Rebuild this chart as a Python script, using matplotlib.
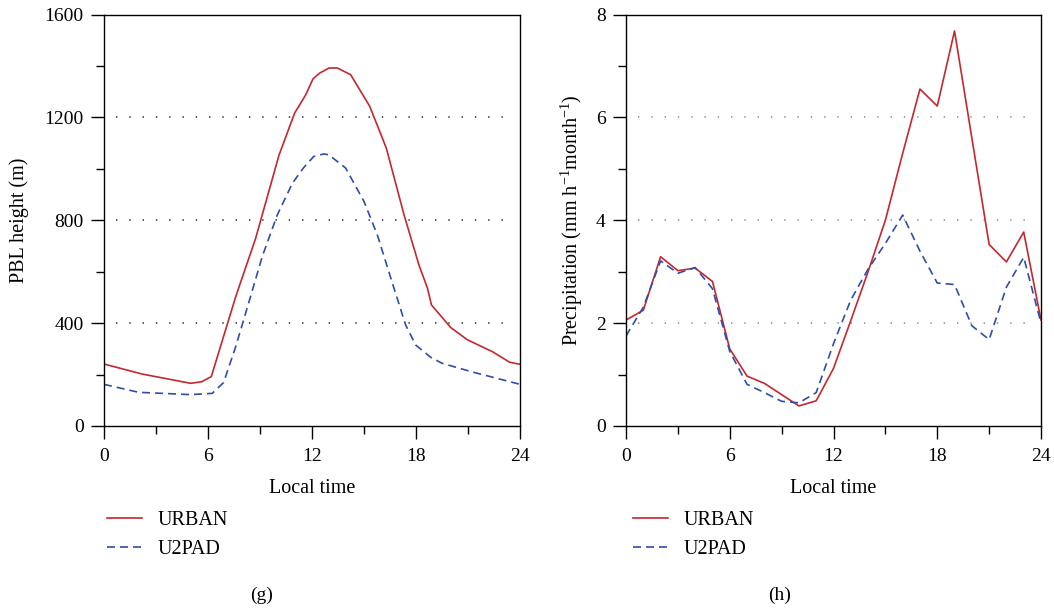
import matplotlib
matplotlib.use("Agg")
import matplotlib.pyplot as plt
from matplotlib.ticker import MultipleLocator

plt.rcParams['font.family'] = ['Liberation Serif', 'DejaVu Serif']
plt.rcParams['mathtext.fontset'] = 'custom'
plt.rcParams['mathtext.rm'] = 'Liberation Serif'
plt.rcParams['mathtext.it'] = 'Liberation Serif:italic'
plt.rcParams['mathtext.bf'] = 'Liberation Serif:bold'

# ---------------- data ----------------
# (g) PBL height (m)
pbl_urban_t = [0.0, 2.2, 5.0, 5.63, 6.19, 7.6, 8.75, 10.1, 11.0, 11.64, 12.06, 12.44,
               12.98, 13.46, 14.23, 15.33, 16.29, 17.31, 18.17, 18.66, 18.89, 20.0,
               20.97, 22.41, 23.4, 24.0]
pbl_urban = [241, 202, 166, 172, 192, 503, 730, 1054, 1217, 1288, 1350, 1372,
             1392, 1392, 1366, 1243, 1080, 821, 626, 536, 471, 383,
             335, 289, 248, 240]
pbl_u2pad_t = [0.0, 2.0, 5.0, 6.25, 6.9, 7.6, 8.37, 9.13, 10.0, 10.87, 11.5, 12.1,
               12.69, 12.98, 13.94, 15.0, 15.77, 16.64, 17.4, 17.98, 18.85, 19.5,
               21.2, 24.0]
pbl_u2pad = [162, 131, 122, 127, 169, 309, 484, 659, 821, 944, 1003, 1048,
             1058, 1054, 1003, 873, 743, 555, 393, 315, 267, 244,
             211, 162]

# (h) Precipitation (hourly)
hours = list(range(25))
pr_urban = [2.06, 2.25, 3.29, 3.02, 3.07, 2.81, 1.50, 0.97, 0.83, 0.61, 0.39, 0.49,
            1.12, 2.05, 3.00, 4.00, 5.30, 6.55, 6.22, 7.68, 5.60, 3.53, 3.19, 3.77, 2.06]
pr_u2pad = [1.75, 2.31, 3.21, 2.97, 3.08, 2.67, 1.45, 0.81, 0.65, 0.48, 0.45, 0.65,
            1.60, 2.45, 3.05, 3.55, 4.10, 3.40, 2.78, 2.75, 1.95, 1.68, 2.70, 3.28, 2.00]

xticks = [0, 6, 12, 18, 24]
labels = ['URBAN', 'U2PAD']
panel_tags = ['(g)', '(h)']

RED = '#C4282E'
BLUE = '#2F4DAA'
FS = 14

fig = plt.figure(figsize=(10.54, 6.08), dpi=100)
axL = fig.add_axes([104/1054, 1-426/608, 416/1054, 411.5/608])
axR = fig.add_axes([626/1054, 1-426/608, 415/1054, 411.5/608])

def style(ax, ymax, ymaj, ymin_, gridvals, gridcolor):
    ax.set_xlim(0, 24)
    ax.set_ylim(0, ymax)
    ax.set_xticks(xticks)
    ax.xaxis.set_minor_locator(MultipleLocator(3))
    ax.yaxis.set_major_locator(MultipleLocator(ymaj))
    ax.yaxis.set_minor_locator(MultipleLocator(ymin_))
    ax.tick_params(which='both', direction='out', top=False, right=False,
                   labelsize=FS, width=1.0)
    ax.tick_params(which='major', length=9.7)
    ax.tick_params(which='minor', length=5.8)
    ax.tick_params(axis='x', which='major', pad=6)
    ax.tick_params(axis='y', which='major', pad=5)
    for s in ax.spines.values():
        s.set_linewidth(1.0)
    for g in gridvals:
        ax.axhline(g, xmin=0.028, xmax=0.985, color=gridcolor, lw=1.1,
                   linestyle=(0, (0.9, 7.8)), zorder=0)
    ax.set_xlabel('Local time', fontsize=FS + 0.5, labelpad=10)

# left panel
axL.plot(pbl_urban_t, pbl_urban, color=RED, lw=1.2, label=labels[0])
axL.plot(pbl_u2pad_t, pbl_u2pad, color=BLUE, lw=1.2, linestyle=(0, (4.8, 3.0)), label=labels[1])
style(axL, 1600, 400, 200, [400, 800, 1200], '#222222')
axL.set_ylabel('PBL height (m)', fontsize=FS + 0.5, labelpad=11)

# right panel
axR.plot(hours, pr_urban, color=RED, lw=1.2, label=labels[0])
axR.plot(hours, pr_u2pad, color=BLUE, lw=1.2, linestyle=(0, (4.8, 3.0)), label=labels[1])
style(axR, 8, 2, 1, [2, 4, 6], '#888888')
axR.set_ylabel('Precipitation (mm h$^{-1}$month$^{-1}$)', fontsize=FS + 0.5, labelpad=8)

for ax, x0 in ((axL, 107), (axR, 633)):
    ax.legend(loc='upper left', bbox_to_anchor=(x0/1054, 1-511/608),
              bbox_transform=fig.transFigure, frameon=False, fontsize=FS + 0.5,
              handlelength=1.75, handletextpad=0.75, labelspacing=0.5,
              borderpad=0, borderaxespad=0)

fig.text(262/1054, 1-595/608, panel_tags[0], fontsize=FS, ha='center', va='center')
fig.text(780/1054, 1-595/608, panel_tags[1], fontsize=FS, ha='center', va='center')

fig.savefig('out.png', dpi=100)
